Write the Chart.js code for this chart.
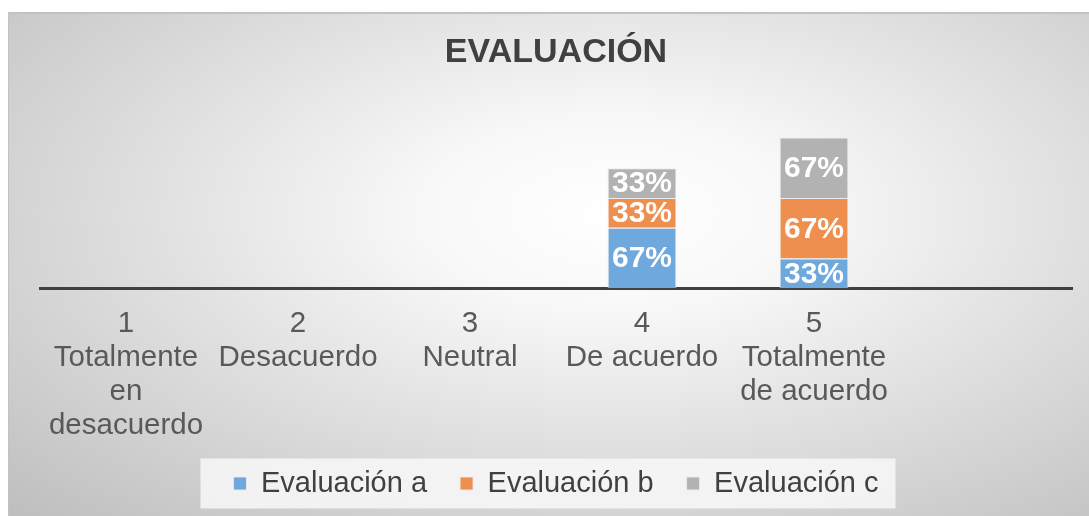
<!DOCTYPE html>
<html>
<head>
<meta charset="utf-8">
<title>Evaluación</title>
<script src="https://cdn.jsdelivr.net/npm/chart.js@4.4.1/dist/chart.umd.min.js"></script>
<style>
  body { margin: 0; background: #fff; }
  #wrap {
    position: absolute; left: 8px; top: 12px; width: 1081px; height: 504px;
    background: radial-gradient(ellipse farthest-corner at 56% 40%, #ffffff 0%, #f8f8f8 22%, #dddddd 58%, #bebebe 100%);
    box-shadow: inset 1px 2px 0 #c2c2c2;
  }
  #grafico { position: absolute; left: 0; top: 0; }
</style>
</head>
<body>
<div id="wrap"><canvas id="grafico" width="1081" height="504"></canvas></div>
<script>
const categorias = [
  ['1', 'Totalmente', 'en', 'desacuerdo'],
  ['2', 'Desacuerdo'],
  ['3', 'Neutral'],
  ['4', 'De acuerdo'],
  ['5', 'Totalmente', 'de acuerdo'],
  ''
];
const evaluacionA = [null, null, null, 67, 33, null];
const evaluacionB = [null, null, null, 33, 67, null];
const evaluacionC = [null, null, null, 33, 67, null];

const fuente = "'Liberation Sans', Arial, sans-serif";

// etiquetas blancas dentro de cada segmento
const etiquetasValor = {
  id: 'etiquetasValor',
  afterDatasetsDraw(chart) {
    const ctx = chart.ctx;
    ctx.save();
    ctx.font = 'bold 30px ' + fuente;
    ctx.fillStyle = '#ffffff';
    ctx.textAlign = 'center';
    ctx.textBaseline = 'middle';
    chart.data.datasets.forEach((ds, i) => {
      chart.getDatasetMeta(i).data.forEach((bar, j) => {
        const v = ds.data[j];
        if (v == null) return;
        ctx.fillText(v + '%', bar.x, (bar.y + bar.base) / 2 + 1);
      });
    });
    ctx.restore();
  }
};

// franja clara detrás de la leyenda
const fondoLeyenda = {
  id: 'fondoLeyenda',
  beforeDraw(chart) {
    const cajas = chart.legend.legendHitBoxes;
    if (!cajas || !cajas.length) return;
    const ult = cajas[cajas.length - 1];
    const izq = cajas[0].left - 33;
    const der = ult.left + ult.width + 17;
    const cy = cajas[0].top + cajas[0].height / 2;
    const ctx = chart.ctx;
    ctx.save();
    ctx.fillStyle = 'rgba(248,248,248,0.85)';
    ctx.fillRect(izq, cy - 25, der - izq, 50);
    ctx.restore();
  }
};

new Chart(document.getElementById('grafico'), {
  type: 'bar',
  data: {
    labels: categorias,
    datasets: [
      { label: 'Evaluación a', data: evaluacionA, backgroundColor: '#6fa8dc' },
      { label: 'Evaluación b', data: evaluacionB, backgroundColor: '#ef8f4f' },
      { label: 'Evaluación c', data: evaluacionC, backgroundColor: '#b2b2b2' }
    ]
  },
  options: {
    responsive: false,
    animation: false,
    devicePixelRatio: 1,
    datasets: {
      bar: {
        barPercentage: 0.4,
        categoryPercentage: 1,
        borderColor: 'rgba(235,235,235,0.9)',
        borderWidth: 1,
        borderSkipped: 'bottom'
      }
    },
    layout: { padding: { left: 32, right: 17, top: 0, bottom: 8 } },
    plugins: {
      tooltip: { enabled: false },
      title: {
        display: true,
        text: 'EVALUACIÓN',
        color: '#404040',
        font: { family: fuente, size: 34, weight: 'bold', lineHeight: 1.2 },
        padding: { top: 20, bottom: 35 }
      },
      legend: {
        position: 'bottom',
        labels: {
          color: '#404040',
          font: { family: fuente, size: 29 },
          boxWidth: 13,
          boxHeight: 13,
          padding: 33
        }
      }
    },
    scales: {
      x: {
        stacked: true,
        grid: { display: false, drawTicks: false },
        border: { display: true, color: '#404040', width: 3 },
        ticks: {
          color: '#595959',
          font: { family: fuente, size: 29.5, lineHeight: 1.15 },
          padding: 19,
          maxRotation: 0,
          autoSkip: false
        },
        // las etiquetas de varias líneas pueden invadir el hueco sobre la leyenda
        afterFit(scale) { scale.height -= 26; }
      },
      y: {
        stacked: true,
        display: false,
        min: 0,
        max: 200
      }
    }
  },
  plugins: [fondoLeyenda, etiquetasValor]
});
</script>
</body>
</html>
